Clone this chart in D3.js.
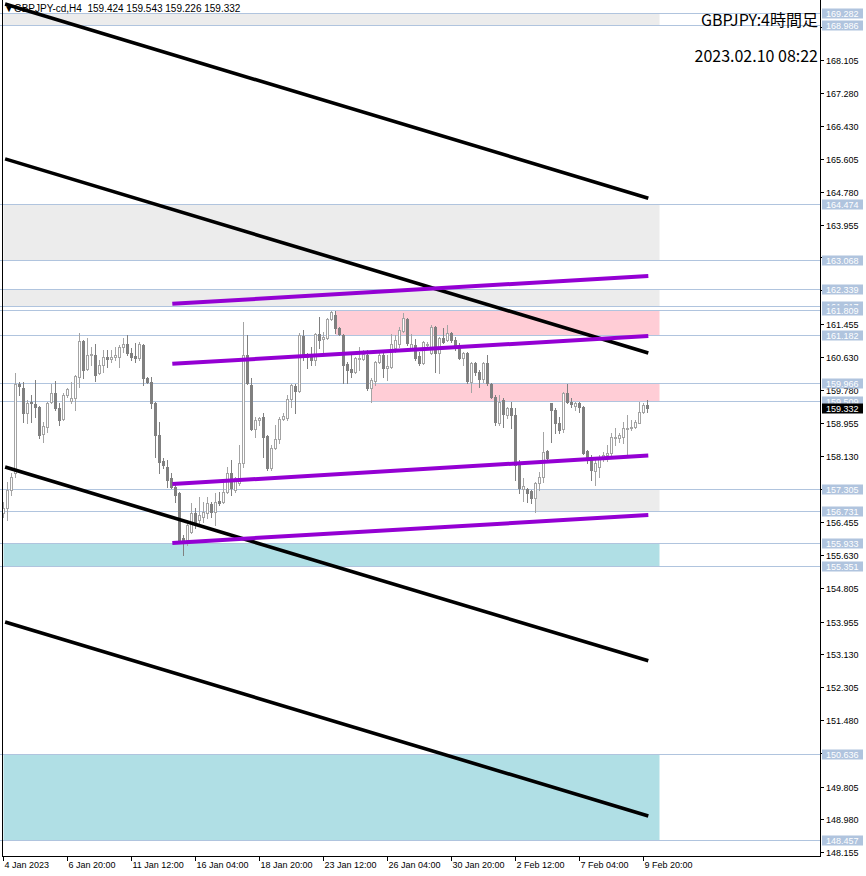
<!DOCTYPE html>
<html><head><meta charset="utf-8">
<script src="https://cdn.jsdelivr.net/npm/d3@7"></script>
<style>body{margin:0;background:#fff}svg{display:block}text{white-space:pre}</style>
</head><body><svg id="c" width="866" height="876"></svg>
<script>
// ---- data ----
const timeLabels = ["4 Jan 2023","6 Jan 20:00","11 Jan 12:00","16 Jan 04:00","18 Jan 20:00","23 Jan 12:00","26 Jan 04:00","30 Jan 20:00","2 Feb 12:00","7 Feb 04:00","9 Feb 20:00"];
const timeLabelIdx = [0,16,32,48,64,80,96,112,128,144,160];

const open  = [156.69,156.81,157.27,157.70,159.94,159.84,159.21,159.49,159.44,159.36,158.68,158.86,159.49,159.71,159.34,159.06,159.66,159.51,159.59,160.12,161.02,160.32,160.67,160.67,160.22,160.42,160.62,160.57,160.62,160.62,160.87,160.95,160.72,160.65,160.60,160.92,160.09,159.99,159.46,158.66,158.00,157.85,157.57,157.35,157.20,156.06,156.01,156.21,156.69,156.52,156.59,156.69,156.92,156.72,156.99,156.97,157.22,157.70,157.27,157.45,157.95,160.67,159.92,158.81,159.03,159.11,158.63,157.83,158.33,158.56,159.06,159.08,159.56,159.89,159.76,161.15,160.67,160.67,160.55,161.20,161.07,161.10,161.58,161.68,161.35,161.17,160.45,160.32,160.24,160.57,160.57,160.67,159.84,160.02,160.50,160.67,160.34,160.37,160.85,160.95,161.28,161.58,160.85,160.92,160.65,160.47,160.95,160.72,161.38,160.72,161.10,161.05,161.23,161.05,160.92,160.60,160.72,159.99,160.47,160.24,160.07,160.47,159.94,159.61,158.96,159.54,159.16,159.34,159.16,157.95,157.30,157.30,157.25,157.07,157.45,157.60,158.25,159.46,159.29,158.96,158.81,159.71,159.49,159.39,159.46,159.36,158.25,158.10,157.75,157.85,158.10,158.15,158.20,158.58,158.58,158.61,158.81,158.83,158.86,158.96,159.24,159.424];
const high  = [156.98,157.48,157.70,160.22,159.99,159.99,159.54,159.66,160.04,159.38,158.98,159.49,159.94,160.02,159.46,159.71,159.84,159.99,160.17,161.23,161.05,161.10,160.87,160.95,160.55,160.80,160.80,160.80,160.87,160.92,161.10,161.17,160.85,160.97,161.00,160.95,160.12,160.12,159.49,158.98,158.08,158.03,157.70,157.40,157.22,156.14,156.52,156.94,156.82,157.09,156.97,157.09,156.97,157.20,157.22,157.45,157.85,158.03,157.60,158.40,161.50,161.17,160.09,159.11,159.11,159.21,158.65,158.40,158.91,159.11,159.21,159.66,159.94,159.94,161.23,161.30,160.72,160.87,161.23,161.63,161.25,161.60,161.78,161.78,161.38,161.20,160.50,160.75,160.62,160.87,160.80,160.80,160.09,160.52,160.75,160.75,160.67,161.20,161.17,161.38,161.73,161.60,161.20,161.07,160.75,161.02,161.00,161.43,161.40,161.12,161.35,161.43,161.25,161.12,160.97,160.75,160.75,160.50,160.50,160.29,160.50,160.67,159.97,159.66,159.66,159.59,159.36,159.49,159.34,158.03,157.57,157.32,157.27,157.48,157.73,158.73,158.28,159.47,159.34,159.11,159.74,159.94,159.59,159.49,159.49,159.38,158.28,158.15,158.03,158.15,158.23,158.40,158.71,158.83,158.71,158.98,159.16,159.03,159.03,159.49,159.46,159.543];
const low   = [156.60,156.52,157.15,157.60,159.66,158.98,158.96,158.98,159.11,158.58,158.48,158.73,159.46,159.29,158.91,159.03,159.61,159.46,159.29,159.86,160.09,160.29,160.42,160.02,160.20,160.24,160.37,160.50,160.55,160.37,160.75,160.67,160.55,160.50,160.55,159.92,159.97,159.34,158.10,157.70,157.83,157.35,157.32,156.97,155.96,155.63,155.89,156.19,156.31,156.39,156.47,156.57,156.59,156.39,156.89,156.94,157.20,157.15,157.22,157.40,157.85,159.95,158.78,158.61,158.91,158.10,157.78,157.78,158.30,158.46,159.03,159.03,159.36,159.21,159.74,160.55,160.34,160.42,160.42,160.85,160.75,161.08,161.55,161.23,161.17,159.97,159.97,160.12,160.22,160.29,160.55,159.79,159.49,159.92,160.47,160.12,160.04,160.34,160.75,160.87,161.25,160.92,160.84,160.55,160.42,160.45,160.87,160.70,160.24,160.22,160.97,161.03,161.00,160.80,160.58,160.42,159.97,159.74,160.17,159.86,159.99,159.92,159.59,158.91,158.91,158.86,159.08,158.83,157.52,157.20,156.99,156.97,156.94,156.72,157.27,157.47,157.98,158.48,158.71,158.71,158.73,159.46,159.36,159.29,159.24,158.18,157.95,157.52,157.40,157.60,158.00,158.00,158.15,158.41,158.48,158.46,158.15,158.78,158.83,158.96,159.21,159.226];
const close = [156.82,157.27,157.60,159.94,159.89,159.21,159.46,159.46,159.36,158.66,158.88,159.46,159.71,159.34,159.03,159.66,159.81,159.59,160.14,161.02,160.29,160.67,160.70,160.17,160.42,160.62,160.57,160.62,160.67,160.87,160.95,160.72,160.62,160.60,160.95,160.09,159.99,159.46,158.66,157.98,157.90,157.52,157.35,157.15,156.01,155.99,156.39,156.69,156.47,156.64,156.72,156.94,156.72,156.97,156.94,157.22,157.70,157.32,157.57,157.95,160.67,159.97,158.81,159.03,159.08,158.61,157.83,158.33,158.56,159.06,159.13,159.56,159.92,159.76,161.17,160.67,160.62,160.55,161.20,161.05,161.12,161.58,161.75,161.35,161.20,160.42,160.29,160.24,160.60,160.60,160.70,159.84,160.04,160.50,160.67,160.34,160.39,160.95,161.05,161.30,161.60,160.97,160.95,160.60,160.47,161.00,160.96,161.38,160.72,161.10,161.00,161.23,161.05,160.85,160.60,160.72,160.02,160.47,160.24,160.07,160.47,159.97,159.61,158.98,159.49,159.18,159.34,159.16,157.90,157.32,157.37,157.20,157.07,157.45,157.60,158.23,158.08,159.29,158.96,158.78,159.71,159.49,159.44,159.46,159.36,158.20,158.10,157.78,157.95,158.10,158.15,158.20,158.61,158.61,158.66,158.83,158.83,158.86,158.98,159.24,159.42,159.332];

const levelPrices = [169.282,168.986,164.474,163.068,162.339,161.917,161.809,161.182,159.966,159.509,157.305,156.731,155.933,155.351,150.636,148.457];

const zoneTop      = [169.282,164.474,162.339,161.809,159.966,157.305,155.933,150.636];
const zoneBottom   = [168.986,163.068,161.917,161.182,159.509,156.731,155.351,148.457];
const zoneStartIdx = [0,0,0,83,92,133,0,0];
const zoneEndIdx   = [164,164,164,164,164,164,164,164];
const zoneKind     = ["supply","supply","supply","resist","resist","supply","demand","demand"];

// price-axis grid values; those lying under a level label are hidden in the reference
const axisTickPrices = [168.105,167.280,166.430,165.605,164.780,163.955,161.455,160.630,159.780,158.955,158.130,156.455,155.630,154.805,153.955,153.130,152.305,151.480,149.805,148.980,148.155];
const hiddenTickPrices = [168.930,163.130,162.305,157.305,150.655];

const channelStartIdx = 0.4, channelEndIdx = 161.2;
const channelStartPrice = [169.51,165.61,157.85,153.95];
const channelEndPrice   = [164.62,160.72,152.97,149.06];

const trendStartIdx = 42.2, trendEndIdx = 161.2;
const trendStartPrice = [161.96,160.45,157.42,155.94];
const trendEndPrice   = [162.66,161.15,158.14,156.64];

const symbolInfo = "▼GBPJPY-cd,H4  159.424 159.543 159.226 159.332";
const titleLine1 = "GBPJPY:4時間足";
const titleLine2 = "2023.02.10 08:22";
const lastPrice = 159.332;

// ---- styles ----
const zoneColor = {supply:"#ececec", resist:"#ffcdd6", demand:"#b0dfe5"};
const levelColor = "#b0c4de";
const bullColor = "#a4a4a4", bearColor = "#808080";
const FONT = "'Liberation Sans', Arial, sans-serif";

// ---- layout ----
const plotRight = 820, plotBottom = 856;
const svg = d3.select("#c");

const x = d3.scaleLinear().domain([0,161]).range([3.5,647.5]);
const y = d3.scaleLinear().domain([148.055,169.611]).range([plotBottom,0]);
const yr = v => Math.round(y(v)) + 0.5;

svg.append("defs").append("clipPath").attr("id","clip")
  .append("rect").attr("x",0).attr("y",0).attr("width",plotRight).attr("height",plotBottom);

const plot = svg.append("g").attr("clip-path","url(#clip)");

// zones
plot.selectAll("rect.zone").data(zoneTop.map((t,i)=>i)).join("rect")
  .attr("class","zone")
  .attr("x", i=>x(zoneStartIdx[i]))
  .attr("y", i=>Math.round(y(zoneTop[i])))
  .attr("width", i=>x(zoneEndIdx[i]) - x(zoneStartIdx[i]))
  .attr("height", i=>Math.round(y(zoneBottom[i])) - Math.round(y(zoneTop[i])))
  .attr("fill", i=>zoneColor[zoneKind[i]]);

// level lines
plot.selectAll("line.level").data(levelPrices).join("line")
  .attr("x1",0).attr("x2",plotRight)
  .attr("y1",d=>yr(d)).attr("y2",d=>yr(d))
  .attr("stroke",levelColor).attr("stroke-width",1);

// candles
const idx = d3.range(open.length);
const cg = plot.append("g");
idx.forEach(i=>{
  const o=open[i], c=close[i], h=high[i], l=low[i];
  const bull = c >= o;
  const col = bull ? bullColor : bearColor;
  const cx = x(i);
  cg.append("line").attr("x1",cx).attr("x2",cx)
    .attr("y1",Math.round(y(h))).attr("y2",Math.round(y(l))+1)
    .attr("stroke",col).attr("stroke-width",1);
  const top = Math.round(y(Math.max(o,c))), bot = Math.round(y(Math.min(o,c)));
  if (bull) {
    cg.append("rect").attr("x",cx-1).attr("y",top+0.5)
      .attr("width",2).attr("height",Math.max(bot-top,1))
      .attr("fill","#fff").attr("stroke",col).attr("stroke-width",1);
  } else {
    cg.append("rect").attr("x",cx-1.5).attr("y",top)
      .attr("width",3).attr("height",Math.max(bot-top,1)+1)
      .attr("fill",col);
  }
});

// channel (black) lines
plot.selectAll("line.chan").data(channelStartPrice.map((d,i)=>i)).join("line")
  .attr("x1",x(channelStartIdx)).attr("x2",x(channelEndIdx))
  .attr("y1",i=>y(channelStartPrice[i])).attr("y2",i=>y(channelEndPrice[i]))
  .attr("stroke","#000").attr("stroke-width",3.6);

// trend (purple) lines
plot.selectAll("line.trend").data(trendStartPrice.map((d,i)=>i)).join("line")
  .attr("x1",x(trendStartIdx)).attr("x2",x(trendEndIdx))
  .attr("y1",i=>y(trendStartPrice[i])).attr("y2",i=>y(trendEndPrice[i]))
  .attr("stroke","#9400d3").attr("stroke-width",4);

// frame
svg.append("line").attr("x1",2.5).attr("x2",2.5).attr("y1",0).attr("y2",plotBottom+0.5).attr("stroke","#000");
svg.append("line").attr("x1",plotRight+0.5).attr("x2",plotRight+0.5).attr("y1",0).attr("y2",plotBottom+0.5).attr("stroke","#000");
svg.append("line").attr("x1",2).attr("x2",plotRight+1).attr("y1",plotBottom+0.5).attr("y2",plotBottom+0.5).attr("stroke","#000");

// right price axis ticks
const ax = svg.append("g");
axisTickPrices.concat(hiddenTickPrices).forEach(v=>{
  const yy = yr(v);
  ax.append("line").attr("x1",plotRight).attr("x2",plotRight+4).attr("y1",yy).attr("y2",yy).attr("stroke","#000");
});
axisTickPrices.forEach(v=>{
  const yy = yr(v);
  ax.append("text").attr("x",826).attr("y",yy+3.5).text(v.toFixed(3))
    .attr("font-family",FONT).attr("font-size",9).attr("fill","#000");
});

// level labels
levelPrices.forEach(v=>{
  const yy = Math.round(y(v));
  ax.append("rect").attr("x",822).attr("y",yy-4.5).attr("width",41).attr("height",10).attr("fill",levelColor);
  ax.append("text").attr("x",826).attr("y",yy+3.5).text(v.toFixed(3))
    .attr("font-family",FONT).attr("font-size",9).attr("fill","#fff");
});
// current price label
{
  const yy = Math.round(y(lastPrice));
  ax.append("rect").attr("x",822).attr("y",yy-4.5).attr("width",41).attr("height",10).attr("fill","#000");
  ax.append("text").attr("x",826).attr("y",yy+3.5).text(lastPrice.toFixed(3))
    .attr("font-family",FONT).attr("font-size",9).attr("fill","#fff");
}

// time axis
timeLabelIdx.forEach((ti,k)=>{
  const xx = Math.floor(x(ti)) + 0.5;
  ax.append("line").attr("x1",xx).attr("x2",xx).attr("y1",plotBottom).attr("y2",plotBottom+5).attr("stroke","#000");
  ax.append("text").attr("x",xx+1).attr("y",plotBottom+12).text(timeLabels[k])
    .attr("font-family",FONT).attr("font-size",9).attr("fill","#000");
});

// header & titles
svg.append("text").attr("x",4).attr("y",12).text(symbolInfo)
  .attr("font-family",FONT).attr("font-size",10).attr("fill","#000");
svg.append("text").attr("x",818).attr("y",26).attr("text-anchor","end").text(titleLine1)
  .attr("font-family","'Noto Sans CJK JP', sans-serif").attr("font-size",16).attr("fill","#000");
svg.append("text").attr("x",818).attr("y",62).attr("text-anchor","end").text(titleLine2)
  .attr("font-family","'Noto Sans CJK JP', sans-serif").attr("font-size",16).attr("fill","#000");
</script>
</body></html>
